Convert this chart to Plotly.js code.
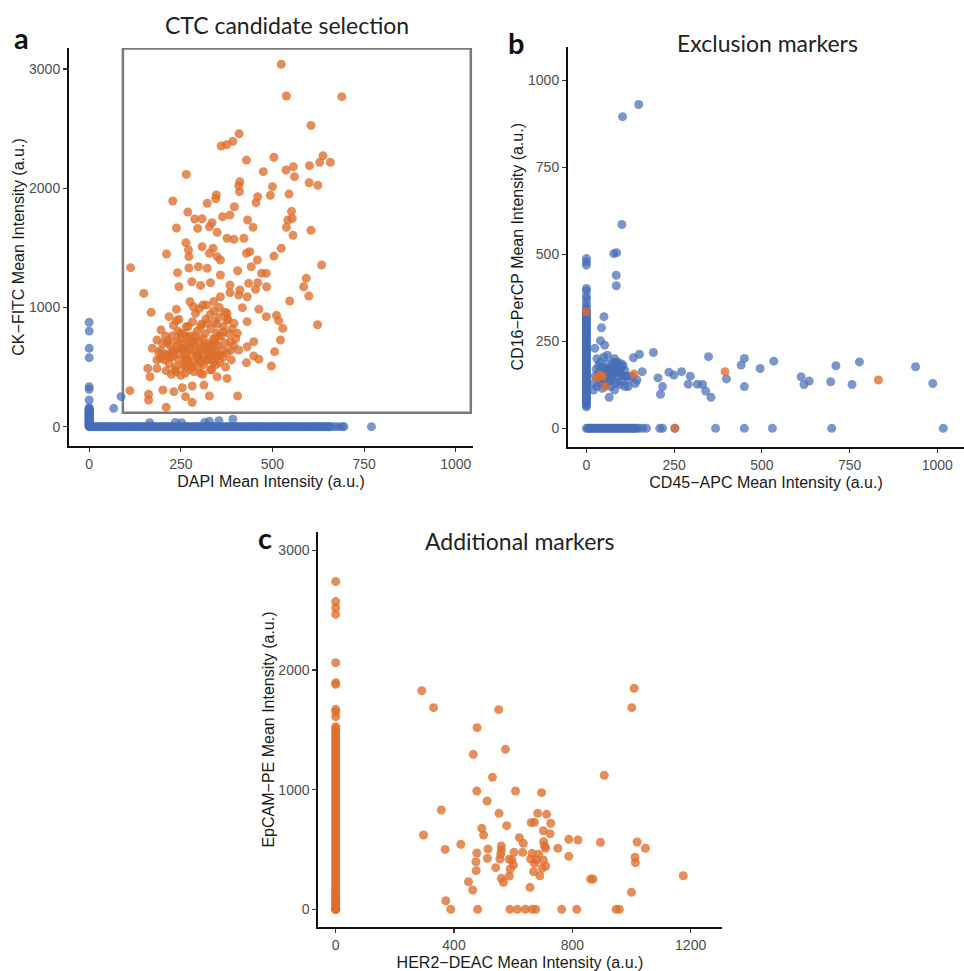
<!DOCTYPE html>
<html>
<head>
<meta charset="utf-8">
<script src="https://cdn.plot.ly/plotly-3.0.1.min.js"></script>
<style>html,body{margin:0;padding:0;background:#fff;}#chart{width:964px;height:971px;}</style>
</head>
<body>
<div id="chart"></div>
<script>
// ---------- Panel a: DAPI (x) vs CK-FITC (y) ----------
const aCandidates = [
[524,3039],[538,2773],[689,2768],[605,2527],[409,2457],[392,2393],[375,2365],[360,2354],[429,2236],[504,2259],
[638,2273],[658,2217],[629,2217],[601,2189],[557,2181],[537,2153],[560,2097],[475,2139],[265,2116],[411,2055],
[408,2021],[410,1971],[600,2046],[624,2024],[500,2013],[494,1940],[545,1951],[460,1929],[455,1879],[347,1943],
[345,1912],[322,1873],[228,1893],[396,1845],[269,1800],[384,1775],[364,1761],[288,1742],[308,1744],[335,1711],
[328,1677],[296,1663],[238,1666],[349,1630],[432,1733],[447,1672],[552,1806],[554,1747],[542,1733],[538,1672],
[556,1605],[605,1647],[376,1580],[395,1571],[422,1580],[264,1543],[338,1496],[524,1496],[504,1431],[438,1468],
[429,1454],[459,1398],[308,1510],[328,1454],[349,1426],[358,1398],[211,1448],[271,1482],[272,1426],[113,1334],
[634,1356],[298,1342],[322,1328],[272,1331],[442,1342],[405,1308],[470,1286],[483,1286],[241,1292],[245,1174],
[280,1216],[304,1185],[331,1208],[358,1272],[384,1188],[411,1146],[435,1202],[460,1208],[484,1174],[592,1244],
[585,1174],[599,1096],[547,1054],[149,1118],[358,1090],[384,1124],[408,1104],[431,1090],[454,1152],[275,1048],
[310,1020],[284,1006],[340,973],[376,951],[418,998],[463,984],[238,984],[169,959],[218,923],[238,889],
[431,881],[483,923],[511,934],[517,889],[528,825],[623,855],[265,839],[304,839],[322,867],[376,895],
[395,867],[196,811],[172,657],[185,727],[213,699],[226,629],[249,783],[267,755],[281,699],[254,657],
[209,601],[195,573],[160,489],[166,419],[185,489],[234,475],[267,559],[299,587],[322,671],[340,727],
[349,783],[367,797],[385,713],[404,783],[408,643],[431,671],[449,713],[463,565],[449,593],[429,537],
[506,629],[522,727],[497,509],[304,447],[331,475],[349,419],[376,405],[313,349],[281,341],[254,327],
[231,294],[201,308],[263,252],[281,204],[328,257],[405,257],[111,302],[162,271],[162,224],[210,162],
[205,560],[212,610],[218,530],[222,680],[228,590],[232,640],[236,500],[240,720],[244,560],[248,610],
[252,660],[256,520],[260,700],[264,580],[268,640],[272,480],[276,760],[280,600],[284,540],[288,680],
[292,620],[296,560],[300,720],[304,660],[308,600],[312,520],[316,780],[320,640],[324,700],[328,580],
[332,820],[336,660],[340,740],[344,600],[348,860],[352,680],[356,540],[360,760],[364,640],[370,700],
[376,620],[382,780],[388,560],[394,680],[400,740],[210,470],[224,440],[238,460],[250,430],[262,450],
[274,520],[286,460],[298,500],[310,440],[322,560],[334,480],[346,520],[358,600],[372,500],[386,640],
[226,760],[242,800],[258,780],[270,840],[282,880],[294,800],[306,860],[318,900],[330,940],[342,880],
[354,920],[366,840],[378,900],[390,820],[215,720],[230,850],[245,900],[290,950],[300,990],[320,1020],
[340,1050],[355,1000],[370,960],[195,640],[200,700],[208,760],[185,560],[190,620],[265,560],[275,650],
[285,720],[295,600],[305,540],[315,680],[325,620],[335,560],[345,700],[355,760],[365,580],[250,740],
[240,680],[230,620],[220,580],[330,680],[340,640],[350,600],[310,740],[290,760],[270,700],[260,620],
[300,640],[320,560],[280,500],[260,500],[340,540],[330,600]
];
const aDapiZeroCk = [0,5,10,15,20,25,30,35,40,45,50,55,60,65,70,75,80,85,90,95,100,105,110,115,120,125,130,135,140,145,150,158,
224,313,335,579,657,802,875];
const aBandDapi = [2,5,8,12,16,20,24,28,32,35,40,44,48,52,56,60,65,70,74,78,82,86,90,95,100,104,108,112,116,120,125,130,134,138,
142,146,150,155,160,164,168,172,176,180,185,190,194,198,202,206,210,215,220,224,228,232,236,240,245,250,254,258,262,266,270,
275,280,284,288,292,296,300,305,310,314,318,322,326,330,335,340,344,348,352,356,360,365,370,374,378,382,386,390,395,400,404,
408,412,416,420,425,430,434,438,442,446,450,455,460,464,468,472,476,480,485,490,494,498,502,506,510,515,520,524,528,532,536,
540,545,550,554,558,562,566,570,575,580,584,588,592,596,600,605,610,614,618,622,626,630,635,640,644,648,652,656,660,670,680,
690,695,770];
const aOtherCells = [[67,154],[87,252],[165,34],[235,36],[252,34],[315,36],[328,45],[354,50],[392,62]];
const aGate = {x0: 92, x1: 1041, y0: 117, y1: 3172};

// ---------- Panel b: CD45-APC (x) vs CD16-PerCP (y) ----------
const bZeroCd45Cd16 = [0,62,66,70,74,78,82,86,90,94,98,102,106,110,114,118,122,126,130,134,138,142,146,150,154,158,162,166,170,174,
178,182,186,190,194,198,202,206,210,214,218,222,226,230,234,238,242,246,250,254,258,262,266,270,274,278,282,286,290,294,298,
302,306,310,314,318,322,326,330,334,338,342,350,360,372,380,395,402,469,478,488];
const bZeroCd16Cd45 = [4,8,12,16,20,25,30,34,38,42,46,50,54,58,62,66,70,74,78,82,86,90,94,98,102,106,110,114,118,122,126,130,134,
138,143,150,160,171,209,217,252,368,450,530,699,1017];
const bLeukocytes = [
[149,931],[103,896],[101,586],[78,502],[86,505],[85,440],[85,410],[50,321],[43,289],[40,252],[52,239],[24,230],
[191,218],[151,213],[134,203],[348,206],[450,201],[534,193],[778,191],[441,182],[711,180],[938,177],[495,172],
[271,163],[235,161],[249,153],[296,150],[204,145],[399,142],[612,148],[635,136],[620,126],[696,134],[757,126],
[987,129],[290,127],[316,127],[331,126],[217,120],[450,120],[340,107],[211,98],[355,89],[119,120],[159,163],
[144,139],[139,129],[65,89],
[30,200],[35,180],[45,175],[55,170],[60,185],[65,165],[70,175],[75,190],[80,180],[85,160],[90,150],[95,170],
[100,155],[105,180],[110,165],[115,150],[60,150],[50,140],[40,130],[30,120],[45,115],[55,125],[65,135],[75,140],
[85,130],[95,125],[35,160],[25,150],[70,120],[80,110],[100,135],[110,120],[120,140],[130,150],[40,190],[50,205],
[60,210],[80,200],[90,190],[100,185],[75,160],[88,170],[20,110],[22,130],
[68,150],[72,145],[58,160],[62,172],[78,168],[92,162],[48,158],[38,142],[28,170],[82,188],[98,176],[108,150]
];
const bCandidates = [[395,163],[832,139],[136,156],[29,145],[40,153],[53,120],[0,335],[252,0],[45,150]];

// ---------- Panel c: HER2-DEAC (x) vs EpCAM-PE (y) ----------
const cZeroHer2Epcam = [0,0,0,15,30,45,60,75,90,105,120,135,150,170,190,210,230,250,270,290,310,330,350,370,390,410,430,450,470,490,
510,530,550,570,590,610,630,650,670,690,710,730,750,770,790,810,830,850,870,890,910,930,950,970,990,1010,1030,1050,1070,1090,
1110,1130,1150,1170,1190,1210,1230,1250,1270,1290,1310,1330,1350,1370,1390,1410,1430,1450,1470,1490,1510,1526,1610,1650,1671,
1880,1894,2061,2465,2520,2571,2738];
const cPositive = [
[291,1827],[331,1685],[551,1668],[478,1518],[465,1295],[574,1337],[530,1103],[477,989],[608,989],[696,975],
[908,1120],[1009,1847],[1001,1685],[512,905],[357,830],[552,802],[683,802],[713,794],[672,727],[661,724],
[578,699],[727,719],[494,677],[500,621],[297,621],[621,599],[702,657],[725,632],[703,565],[706,529],
[788,585],[819,579],[895,560],[1019,563],[370,501],[423,543],[515,504],[560,529],[560,496],[634,552],
[603,476],[632,476],[558,462],[477,471],[513,426],[474,398],[475,323],[541,348],[560,259],[567,226],
[555,421],[586,418],[596,412],[601,370],[590,337],[587,279],[664,468],[659,421],[686,460],[679,412],
[672,384],[669,315],[710,510],[702,412],[710,362],[698,343],[690,281],[657,184],[751,510],[788,443],
[1047,510],[1012,435],[1013,390],[862,253],[870,253],[1175,281],[1000,142],[449,231],[463,162],[372,72],
[389,0],[480,0],[589,0],[614,0],[641,0],[664,0],[676,0],[764,0],[815,0],[948,0],[959,0]
];

const ticksA_x = [0,250,500,750,1000], ticksA_y = [0,1000,2000,3000];
const ticksB_x = [0,250,500,750,1000], ticksB_y = [0,250,500,750,1000];
const ticksC_x = [0,400,800,1200], ticksC_y = [0,1000,2000,3000];

// ---------- styles ----------
const BLUE = 'rgba(70,110,182,0.72)';
const ORANGE = 'rgba(222,110,44,0.78)';
const MS = 9;
function pts(arr, i){ return arr.map(p => p[i]); }
function sc(x, y, color, xa, ya){
  return {type:'scatter', mode:'markers', x:x, y:y, xaxis:xa, yaxis:ya,
    marker:{size:MS, color:color, line:{width:0}}, hoverinfo:'x+y', showlegend:false, cliponaxis:false};
}
const traces = [
  sc(aDapiZeroCk.map(()=>0), aDapiZeroCk, BLUE, 'x', 'y'),
  sc(aBandDapi, aBandDapi.map(()=>0), BLUE, 'x', 'y'),
  sc(pts(aOtherCells,0), pts(aOtherCells,1), BLUE, 'x', 'y'),
  sc(pts(aCandidates,0), pts(aCandidates,1), ORANGE, 'x', 'y'),
  sc(bZeroCd45Cd16.map(()=>0), bZeroCd45Cd16, BLUE, 'x2', 'y2'),
  sc(bZeroCd16Cd45, bZeroCd16Cd45.map(()=>0), BLUE, 'x2', 'y2'),
  sc(pts(bLeukocytes,0), pts(bLeukocytes,1), BLUE, 'x2', 'y2'),
  sc(pts(bCandidates,0), pts(bCandidates,1), ORANGE, 'x2', 'y2'),
  sc(cZeroHer2Epcam.map(()=>0), cZeroHer2Epcam, ORANGE, 'x3', 'y3'),
  sc(pts(cPositive,0), pts(cPositive,1), ORANGE, 'x3', 'y3')
];

const TICKFONT = {family:'Liberation Sans, Arial, sans-serif', size:14, color:'#4d4d4d'};
const TITLEFONT = {family:'Liberation Sans, Arial, sans-serif', size:16, color:'#1a1a1a'};
function ax(domain, range, tickvals, title, anchor, standoff){
  return {domain:domain, range:range, tickvals:tickvals, ticktext:tickvals.map(String),
    showline:true, linecolor:'#111', linewidth:2, mirror:false, showgrid:false, zeroline:false,
    ticks:'outside', ticklen:4, tickwidth:1.2, tickcolor:'#333', tickfont:TICKFONT,
    title:{text:title, font:TITLEFONT, standoff:standoff}, anchor:anchor, automargin:false, fixedrange:true};
}
const W = 964, H = 971;
const layout = {
  width:W, height:H, margin:{l:0,r:0,t:0,b:0}, paper_bgcolor:'#fff', plot_bgcolor:'#fff', showlegend:false,
  xaxis:  ax([69/W, 473/W], [-55,1047], ticksA_x, 'DAPI Mean Intensity (a.u.)', 'y', 5),
  yaxis:  ax([1-446/H, 1-48/H], [-162,3176], ticksA_y, 'CK−FITC Mean Intensity (a.u.)', 'x', 0),
  xaxis2: ax([568/W, 1.0], [-52.5,1076], ticksB_x, 'CD45−APC Mean Intensity (a.u.)', 'y2', 5),
  yaxis2: ax([1-446.7/H, 1-46.7/H], [-52.8,1097], ticksB_y, 'CD16−PerCP Mean Intensity (a.u.)', 'x2', 0),
  xaxis3: ax([318.3/W, 721.7/W], [-58.8,1305], ticksC_x, 'HER2−DEAC Mean Intensity (a.u.)', 'y3', 5),
  yaxis3: ax([1-927.3/H, 1-531.7/H], [-150,3155], ticksC_y, 'EpCAM−PE Mean Intensity (a.u.)', 'x3', 0),
  shapes:[{type:'rect', xref:'x', yref:'y', x0:aGate.x0, x1:aGate.x1, y0:aGate.y0, y1:aGate.y1,
    line:{color:'#7a7a7a', width:2.5}, fillcolor:'rgba(0,0,0,0)', layer:'below'}],
  annotations:[
    {text:'CTC candidate selection', x:287/W, y:1-25/H, xref:'paper', yref:'paper', showarrow:false,
      font:{family:'Lato, sans-serif', size:23, color:'#222'}, xanchor:'center', yanchor:'middle'},
    {text:'Exclusion markers', x:767/W, y:1-43/H, xref:'paper', yref:'paper', showarrow:false,
      font:{family:'Lato, sans-serif', size:23, color:'#222'}, xanchor:'center', yanchor:'middle'},
    {text:'Additional markers', x:520/W, y:1-541/H, xref:'paper', yref:'paper', showarrow:false,
      font:{family:'Lato, sans-serif', size:23, color:'#222'}, xanchor:'center', yanchor:'middle'},
    {text:'a', x:21/W, y:1-38/H, xref:'paper', yref:'paper', showarrow:false,
      font:{family:'Lato, sans-serif', size:29, color:'#111', weight:'bold'}, xanchor:'center', yanchor:'middle'},
    {text:'b', x:516/W, y:1-42/H, xref:'paper', yref:'paper', showarrow:false,
      font:{family:'Lato, sans-serif', size:29, color:'#111', weight:'bold'}, xanchor:'center', yanchor:'middle'},
    {text:'c', x:265/W, y:1-537/H, xref:'paper', yref:'paper', showarrow:false,
      font:{family:'Lato, sans-serif', size:29, color:'#111', weight:'bold'}, xanchor:'center', yanchor:'middle'}
  ]
};
Plotly.newPlot('chart', traces, layout, {displayModeBar:false, staticPlot:true});
</script>
</body>
</html>
